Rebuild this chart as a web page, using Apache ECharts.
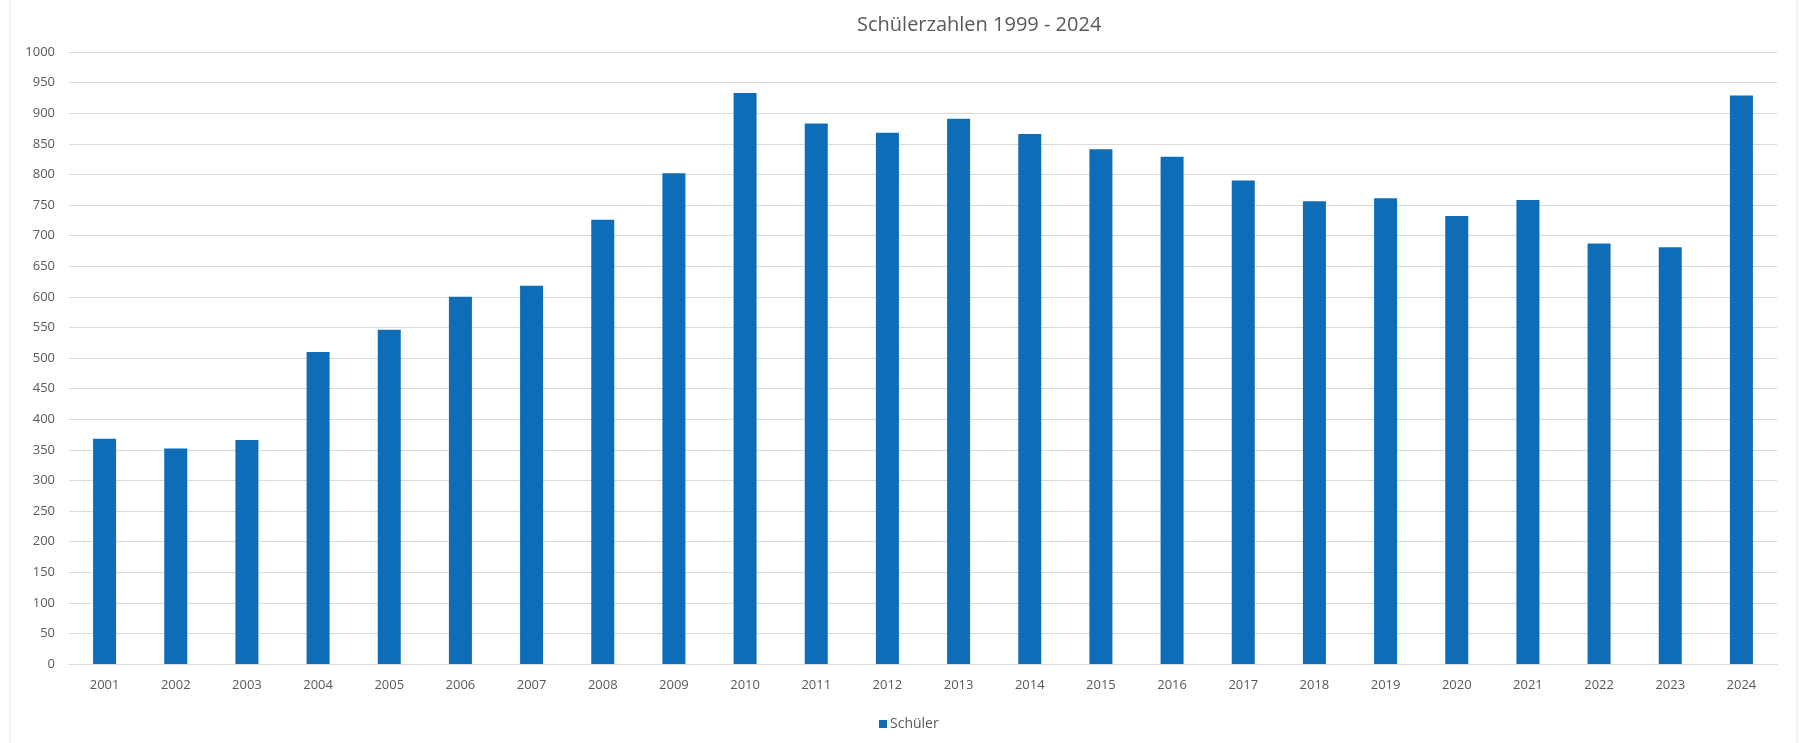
<!DOCTYPE html>
<html>
<head>
<meta charset="utf-8">
<title>Schülerzahlen 1999 - 2024</title>
<script src="https://cdn.jsdelivr.net/npm/echarts@6/dist/echarts.min.js"></script>
<style>
  html, body { margin: 0; padding: 0; background: #fff; }
  #chart { width: 1805px; height: 743px; }
</style>
</head>
<body>
<div id="chart"></div>
<script>
const years = ['2001', '2002', '2003', '2004', '2005', '2006', '2007', '2008', '2009', '2010', '2011', '2012',
  '2013', '2014', '2015', '2016', '2017', '2018', '2019', '2020', '2021', '2022', '2023', '2024']
const schueler = [368, 352, 366, 510, 546, 600, 618, 726, 802, 933, 883, 868,
  891, 866, 841, 829, 790, 756, 761, 732, 758, 687, 681, 929]
const yTicks = { min: 0, max: 1000, interval: 50 }

const textColor = '#595959'
const lineColor = '#d9d9d9'
const font = '"Open Sans", "DejaVu Sans", sans-serif'

const chart = echarts.init(document.getElementById('chart'))
chart.setOption({
  animation: false,
  backgroundColor: '#fff',
  title: {
    text: 'Schülerzahlen 1999 - 2024',
    left: 852,
    top: 10,
    textStyle: { fontFamily: font, fontSize: 20, fontWeight: 'normal', color: textColor }
  },
  grid: { left: 69, right: 28, top: 52, bottom: 79 },
  legend: {
    data: ['Schüler'],
    left: 874,
    top: 712,
    icon: 'rect',
    itemWidth: 8,
    itemHeight: 8,
    itemGap: 4,
    textStyle: { fontFamily: font, fontSize: 14, color: textColor, padding: [0, 0, 0, -2] }
  },
  xAxis: {
    type: 'category',
    data: years,
    axisTick: { show: false },
    axisLine: { lineStyle: { color: lineColor, width: 1 } },
    axisLabel: { color: textColor, fontFamily: font, fontSize: 13, margin: 15 }
  },
  yAxis: {
    type: 'value',
    min: yTicks.min,
    max: yTicks.max,
    interval: yTicks.interval,
    axisLine: { show: false },
    axisTick: { show: false },
    splitLine: { lineStyle: { color: lineColor, width: 1 } },
    axisLabel: { color: textColor, fontFamily: font, fontSize: 13, margin: 14, formatter: v => String(v) }
  },
  series: [{
    name: 'Schüler',
    type: 'bar',
    data: schueler,
    barWidth: 23,
    itemStyle: { color: '#0f6cb6' }
  }],
  graphic: [{
    type: 'rect',
    shape: { x: 10, y: -2, width: 1787, height: 746 },
    style: { fill: 'none', stroke: '#e3e3e3', lineWidth: 1 },
    silent: true
  }]
})
</script>
</body>
</html>
